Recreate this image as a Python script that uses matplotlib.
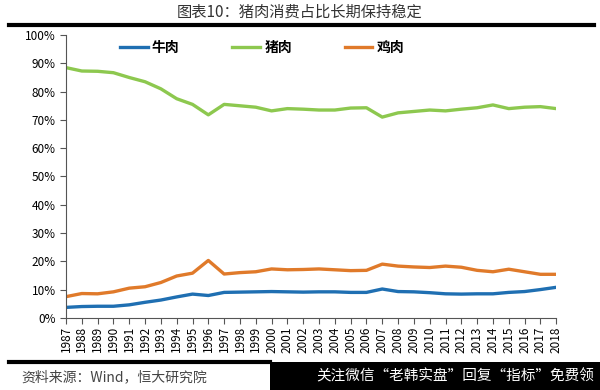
import matplotlib
matplotlib.use('Agg')
import matplotlib.pyplot as plt
from matplotlib.ticker import PercentFormatter
from matplotlib.patches import Rectangle

plt.rcParams['font.family'] = ['Noto Sans CJK SC', 'DejaVu Sans']

years = list(range(1987, 2019))
beef = [3.7, 4.0, 4.1, 4.1, 4.6, 5.5, 6.3, 7.4, 8.4, 7.9, 9.0, 9.1, 9.2, 9.3, 9.2, 9.1,
        9.2, 9.2, 9.0, 9.0, 10.2, 9.3, 9.2, 8.9, 8.5, 8.4, 8.5, 8.5, 9.0, 9.3, 10.0, 10.8]
pork = [88.5, 87.3, 87.2, 86.7, 85.0, 83.5, 81.0, 77.5, 75.5, 71.8, 75.5, 75.0, 74.5, 73.2, 74.0, 73.8,
        73.5, 73.5, 74.2, 74.3, 71.0, 72.5, 73.0, 73.5, 73.2, 73.8, 74.3, 75.3, 74.0, 74.5, 74.7, 74.0]
chicken = [7.5, 8.6, 8.5, 9.2, 10.5, 11.0, 12.5, 14.8, 15.8, 20.3, 15.5, 16.0, 16.3, 17.3, 17.0, 17.1,
           17.3, 17.0, 16.7, 16.8, 19.0, 18.3, 18.0, 17.8, 18.3, 17.9, 16.8, 16.3, 17.2, 16.3, 15.4, 15.4]
names = ['牛肉', '猪肉', '鸡肉']
colors = ['#1f6fb2', '#8dc84f', '#e07a2a']

fig = plt.figure(figsize=(6, 3.9), dpi=100)
ax = fig.add_axes([0.11, 0.185, 0.817, 0.725])

for vals, name, c in zip([beef, pork, chicken], names, colors):
    ax.plot(years, vals, color=c, lw=2.4, label=name)

ax.set_xlim(1987, 2018)
ax.set_ylim(0, 100)
ax.set_yticks(range(0, 101, 10))
ax.yaxis.set_major_formatter(PercentFormatter(decimals=0))
ax.set_xticks(years)
ax.set_xticklabels([str(y) for y in years], rotation=90, fontsize=8.5)
ax.tick_params(axis='y', labelsize=8.5, length=4, color='#555555')
ax.tick_params(axis='x', length=4, color='#555555', pad=2)
for s in ['top', 'right']:
    ax.spines[s].set_visible(False)
ax.spines['left'].set_color('#555555')
ax.spines['bottom'].set_color('#555555')

leg = ax.legend(loc='upper center', bbox_to_anchor=(0.40, 1.025), ncol=3, frameon=False,
                prop={'size': 10, 'weight': 'bold'}, columnspacing=3.8, handlelength=2.0,
                handletextpad=0.3)

fig.text(0.5, 0.968, '图表10：猪肉消费占比长期保持稳定', ha='center', va='center', fontsize=11, color='#333333')
fig.add_artist(plt.Line2D([0.015, 0.99], [0.935, 0.935], color='black', lw=3))
fig.add_artist(plt.Line2D([0.015, 0.45], [0.072, 0.072], color='black', lw=3))
fig.text(0.035, 0.032, '资料来源：Wind，恒大研究院', ha='left', va='center', fontsize=10,
         style='italic', color='#444444')
fig.add_artist(Rectangle((0.45, 0.0), 0.55, 0.072, transform=fig.transFigure, facecolor='black',
                         edgecolor='none'))
fig.text(0.99, 0.034, '关注微信“老韩实盘”回复“指标”免费领', ha='right', va='center', fontsize=10.5,
         color='white')

fig.savefig('out.png', dpi=100)
